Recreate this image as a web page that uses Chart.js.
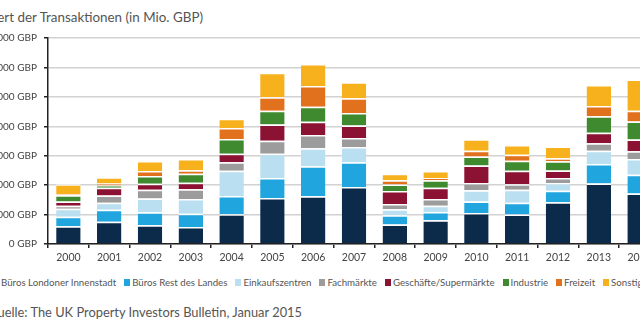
<!DOCTYPE html>
<html>
<head>
<meta charset="utf-8">
<script src="https://cdn.jsdelivr.net/npm/chart.js@4.4.1/dist/chart.umd.min.js"></script>
<style>
    body { margin:0; width:640px; height:335px; overflow:hidden; background:#fff; position:relative; font-family: Lato, "Open Sans", sans-serif; color:#555; }
    #titel { position:absolute; right:437px; top:9px; font-size:13.4px; line-height:17px; white-space:nowrap; }
    #wrap { position:absolute; left:-30px; top:0; width:690px; height:270px; }
    #legende { position:absolute; top:276px; left:0; white-space:nowrap; font-size:9.7px; line-height:12px; color:#555; }
    #legende .item { display:inline-block; margin-right:8px; }
    #legende i { display:inline-block; width:6px; height:7px; margin-right:2px; vertical-align:0px; }
    #quelle { position:absolute; right:338px; top:304px; font-size:12.85px; line-height:16px; white-space:nowrap; }
</style>
</head>
<body>
<div id="titel">Wert der Transaktionen (in Mio. GBP)</div>
<div id="wrap"><canvas id="myChart" width="690" height="270"></canvas></div>
<div id="legende"></div>
<div id="quelle">Quelle: The UK Property Investors Bulletin, Januar 2015</div>
<script>
// Jahre (Kategorien)
const jahre = ["2000", "2001", "2002", "2003", "2004", "2005", "2006", "2007", "2008", "2009", "2010", "2011", "2012", "2013", "2014"];

// Werte in Mio. GBP
const buerosLondon   = [6000, 7600, 6400, 5800, 10100, 15600, 16200, 19400, 6600, 8100, 10500, 10000, 14200, 20600, 17200];
const buerosRest     = [3300, 4000, 4400, 4500, 6200, 6800, 10200, 8400, 3200, 2800, 3900, 4000, 3900, 6600, 6300];
const einkaufszentren = [2700, 2400, 4700, 5000, 8600, 8300, 6100, 5200, 2000, 2100, 3900, 4400, 2600, 4500, 5400];
const fachmaerkte    = [1000, 2500, 2900, 3300, 2900, 4400, 4500, 3000, 1800, 2300, 2400, 1900, 1700, 2500, 2600];
const geschaefte     = [1400, 2600, 2100, 2200, 2900, 5500, 4500, 4300, 4400, 3800, 6000, 4600, 2600, 3600, 4000];
const industrie      = [2200, 800, 2600, 3100, 5000, 4700, 5100, 4200, 2200, 2600, 3000, 3400, 3100, 5600, 6100];
const freizeit       = [300, 700, 1700, 1200, 3700, 4600, 7100, 5000, 1500, 700, 2000, 2000, 1000, 3500, 3700];
const sonstige       = [3400, 2100, 3400, 3800, 3200, 8300, 7500, 5500, 2200, 2400, 3900, 3300, 4000, 7100, 10600];

const yTicks = [0, 10000, 20000, 30000, 40000, 50000, 60000, 70000];

const serien = [
    ["Büros Londoner Innenstadt", buerosLondon, "#0c2b4b"],
    ["Büros Rest des Landes", buerosRest, "#20a5df"],
    ["Einkaufszentren", einkaufszentren, "#b9dff1"],
    ["Fachmärkte", fachmaerkte, "#9c9c9c"],
    ["Geschäfte/Supermärkte", geschaefte, "#8b1233"],
    ["Industrie", industrie, "#3f8a2f"],
    ["Freizeit", freizeit, "#e2711d"],
    ["Sonstige", sonstige, "#f7b11c"]
];

const schrift = "Lato, 'Open Sans', sans-serif";

// Legende als HTML
const legende = document.getElementById("legende");
serien.forEach(s => {
    const item = document.createElement("span");
    item.className = "item";
    item.innerHTML = '<i style="background:' + s[2] + '"></i>' + s[0];
    legende.appendChild(item);
});
// erstes Label endet bei x=116
const erstes = legende.querySelector(".item");
legende.style.left = (116 - erstes.offsetWidth) + "px";

const datasets = serien.map(s => ({
    label: s[0],
    data: s[1],
    backgroundColor: s[2],
    borderColor: "#ffffff",
    borderWidth: { top: 1.5, left: 0, right: 0, bottom: 0 },
    borderSkipped: false,
    categoryPercentage: 1,
    barPercentage: 0.6
}));

const ctx = document.getElementById("myChart");
new Chart(ctx, {
    type: "bar",
    data: { labels: jahre, datasets: datasets },
    options: {
        responsive: false,
        animation: false,
        layout: { padding: { top: 38, left: 0, right: 0, bottom: 0 } },
        plugins: { legend: { display: false }, tooltip: { enabled: false } },
        scales: {
            x: {
                stacked: true,
                grid: { offset: true, drawOnChartArea: false, drawTicks: true, tickLength: 4, tickColor: "#222", lineWidth: 1.5 },
                border: { color: "#222", width: 1.5 },
                ticks: { color: "#444", font: { family: schrift, size: 10.5 }, padding: 3, maxRotation: 0, autoSkip: false },
                afterFit(scale) { scale.height = 26; }
            },
            y: {
                stacked: true,
                min: 0,
                max: 70000,
                afterBuildTicks(scale) { scale.ticks = yTicks.map(v => ({ value: v })); },
                ticks: {
                    color: "#444",
                    font: { family: schrift, size: 10 },
                    padding: 7,
                    callback: v => v.toLocaleString("en-US") + " GBP"
                },
                grid: { color: "#d2d2d2", lineWidth: 1.5, tickColor: "#222", tickLength: 4 },
                border: { color: "#222", width: 1.5 },
                afterFit(scale) { scale.width = 78; }
            }
        }
    }
});
</script>
</body>
</html>
